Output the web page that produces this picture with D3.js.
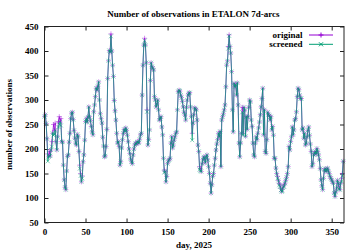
<!DOCTYPE html>
<html>
<head>
<meta charset="utf-8">
<script src="https://cdn.jsdelivr.net/npm/d3@7"></script>
<style>
body { margin: 0; background: #fff; }
text { font-family: "Liberation Serif", "Times New Roman", serif; font-weight: bold; font-size: 9px; fill: #000; }
</style>
</head>
<body>
<div id="chart"></div>
<script>
// daily counts, day 0..364 (original)
var original = [
 266,270,252,221,190,184,195,186,198,215, 232,250,238,253,215,198,225,256,266,255,
 262,215,214,167,137,122,117,155,185,188, 214,232,262,273,275,260,238,222,212,208,
 230,225,195,167,150,133,145,174,188,218, 256,262,255,265,286,266,258,246,235,229,
 276,290,307,324,320,328,337,300,272,262, 253,224,206,184,186,205,240,344,380,401,
 398,435,400,371,348,299,278,259,232,212, 215,205,167,174,202,219,232,240,236,243,
 238,228,215,200,191,180,174,170,188,200, 208,212,210,214,215,212,220,229,232,310,
 371,412,426,412,376,280,208,219,239,340, 376,368,365,361,307,300,286,292,300,280,
 259,262,266,245,229,181,157,154,133,144, 170,176,178,181,212,225,202,208,218,225,
 232,235,280,317,320,318,310,305,297,286, 275,269,259,285,300,310,314,315,286,266,
 232,253,270,284,282,280,259,208,195,164, 160,154,170,178,184,181,172,184,188,178,
 164,150,130,110,127,144,150,167,181,198, 210,219,232,225,236,164,259,266,272,280,
 290,327,371,380,409,433,409,396,358,280, 235,334,327,331,310,335,290,212,184,212,
 232,285,232,285,279,226,266,240,266,285, 300,296,259,246,212,188,184,212,225,219,
 232,243,255,270,286,303,324,229,280,195, 191,219,275,270,268,259,266,239,246,228,
 181,181,161,150,144,136,130,127,120,113, 118,123,127,130,136,142,150,164,205,198,
 215,225,245,229,239,259,262,276,307,324, 321,310,303,303,239,243,222,232,208,212,
 225,238,245,228,210,195,164,170,188,191, 195,190,201,195,188,178,160,137,125,117,
 140,157,160,154,158,161,155,150,144,140, 137,133,130,110,103,112,120,136,130,124,
 117,130,140,150,175
];

// days where the screened count differs from the original: [day, value]
var screenedEdits = [
 [4,175],[6,186],[9,205],[11,228],[12,230],[13,238],[17,245],[18,250],[20,248],
 [43,160],[44,145],[46,140],[81,430],[122,421],[125,276],[146,152],[180,218],
 [189,158],[190,155],[224,405],[225,431],[241,275],[242,228],[284,140],[286,126],
 [287,123],[288,116],[290,114],[292,123],[359,118],[362,134],[363,145]
];

var xTicks = [0, 50, 100, 150, 200, 250, 300, 350];
var yTicks = [50, 100, 150, 200, 250, 300, 350, 400, 450];
var seriesNames = ["original", "screened"];
var seriesColors = ["#9400d3", "#009e73"];

var screened = original.slice();
screenedEdits.forEach(function(e) { screened[e[0]] = e[1]; });

var series = [
  {name: seriesNames[0], color: seriesColors[0], values: original.map(function(v, i) { return {day: i, n: v}; })},
  {name: seriesNames[1], color: seriesColors[1], values: screened.map(function(v, i) { return {day: i, n: v}; })}
];

var W = 360, H = 252,
    margin = {left: 44.5, right: 16, top: 26.5, bottom: 29.5},
    width = W - margin.left - margin.right,
    height = H - margin.top - margin.bottom;

var svg = d3.select("#chart").append("svg")
    .attr("width", W)
    .attr("height", H);

var g = svg.append("g").attr("transform", "translate(" + margin.left + "," + margin.top + ")");

var x = d3.scaleLinear().domain([0, 365]).range([0, width]),
    y = d3.scaleLinear().domain([50, 450]).range([height, 0]);

// axes, ticks pointing inward and mirrored
g.append("g")
    .attr("transform", "translate(0," + height + ")")
    .call(d3.axisBottom(x).tickValues(xTicks).tickSize(-4).tickPadding(6))
    .call(function(a) { a.select(".domain").remove(); });
g.append("g")
    .call(d3.axisTop(x).tickValues(xTicks).tickSize(-4).tickFormat(""))
    .call(function(a) { a.select(".domain").remove(); });
g.append("g")
    .call(d3.axisLeft(y).tickValues(yTicks).tickSize(-4).tickPadding(6))
    .call(function(a) { a.select(".domain").remove(); });
g.append("g")
    .attr("transform", "translate(" + width + ",0)")
    .call(d3.axisRight(y).tickValues(yTicks).tickSize(-4).tickFormat(""))
    .call(function(a) { a.select(".domain").remove(); });

g.selectAll(".tick line").attr("stroke", "#222");
g.selectAll(".tick text")
    .attr("font-family", null)
    .attr("font-size", null);

var line = d3.line()
    .x(function(d) { return x(d.day); })
    .y(function(d) { return y(d.n); });

var plus = function(px, py, s) { return "M" + (px - s) + "," + py + "h" + (2 * s) + "M" + px + "," + (py - s) + "v" + (2 * s); };
var cross = function(px, py, s) { return "M" + (px - s) + "," + (py - s) + "l" + (2 * s) + "," + (2 * s) + "M" + (px - s) + "," + (py + s) + "l" + (2 * s) + "," + (-2 * s); };

series.forEach(function(s, k) {
  var grp = g.append("g").attr("class", "status");
  grp.append("path")
      .attr("d", line(s.values))
      .attr("fill", "none")
      .attr("stroke", s.color)
      .attr("stroke-width", 1)
      .attr("stroke-opacity", k == 0 ? 0.7 : 0.7);
  grp.append("path")
      .attr("d", s.values.map(function(d) {
        return k == 0 ? plus(x(d.day), y(d.n), 2.5) : cross(x(d.day), y(d.n), 2);
      }).join(""))
      .attr("fill", "none")
      .attr("stroke", s.color)
      .attr("stroke-width", 0.8)
      .attr("stroke-opacity", k == 0 ? 0.55 : 0.6);
});

// frame
g.append("rect")
    .attr("width", width)
    .attr("height", height)
    .attr("fill", "none")
    .attr("stroke", "#222")
    .attr("stroke-width", 1);

// legend
series.forEach(function(s, k) {
  var ly = 8.5 + k * 9.3;
  g.append("text")
      .attr("x", 302.5 - margin.left)
      .attr("y", ly)
      .attr("dy", "0.32em")
      .attr("text-anchor", "end")
      .text(s.name);
  g.append("line")
      .attr("x1", 309 - margin.left).attr("x2", 333 - margin.left)
      .attr("y1", ly).attr("y2", ly)
      .attr("stroke", s.color).attr("stroke-width", 1);
  g.append("path")
      .attr("d", k == 0 ? plus(321 - margin.left, ly, 2.5) : cross(321 - margin.left, ly, 2))
      .attr("stroke", s.color).attr("stroke-width", 1);
});

// titles
svg.append("text")
    .attr("x", 193.5).attr("y", 16.5)
    .attr("text-anchor", "middle")
    .text("Number of observations in ETALON 7d-arcs");
svg.append("text")
    .attr("x", 194).attr("y", 248)
    .attr("text-anchor", "middle")
    .text("day, 2025");
svg.append("text")
    .attr("transform", "translate(12," + (margin.top + height / 2) + ") rotate(-90)")
    .attr("text-anchor", "middle")
    .text("number of observations");
</script>
</body>
</html>
